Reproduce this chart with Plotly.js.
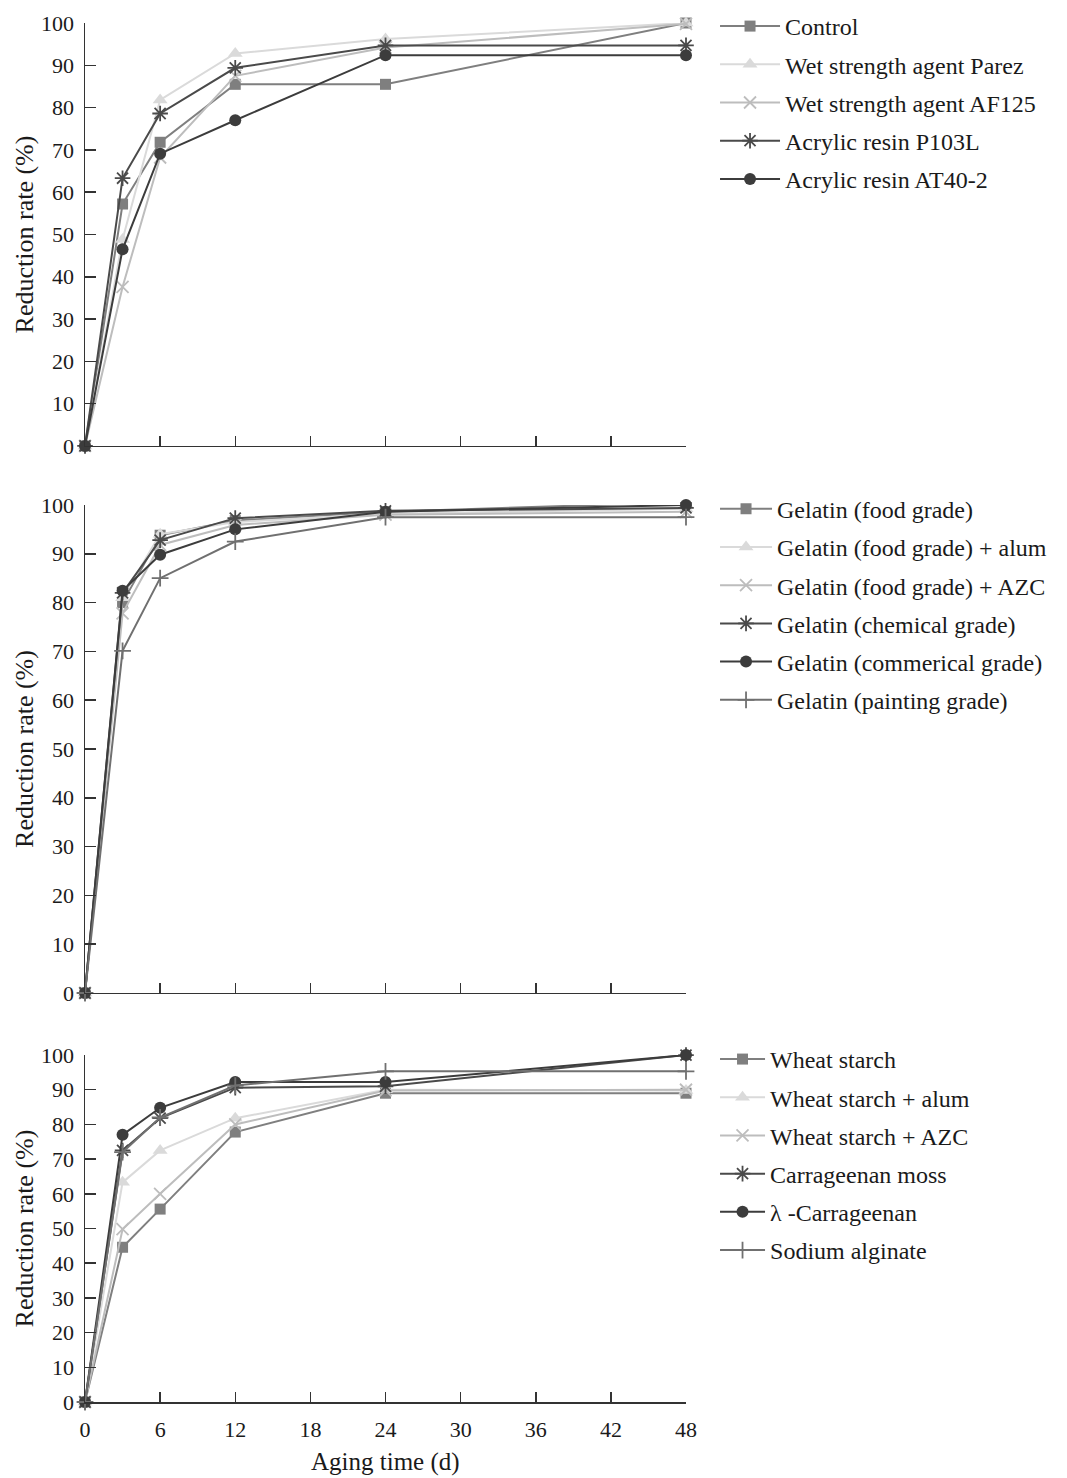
<!DOCTYPE html>
<html>
<head>
<meta charset="utf-8">
<script src="https://cdn.plot.ly/plotly-3.0.1.min.js"></script>
<style>
html,body{margin:0;padding:0;background:#fff;}
#chart{width:1067px;height:1478px;}
</style>
</head>
<body>
<div id="chart"></div>
<script>
// ---- data ----
const days = [0, 3, 6, 12, 24, 48];
const xTicks = [0, 6, 12, 18, 24, 30, 36, 42, 48];
const yTicks = [0, 10, 20, 30, 40, 50, 60, 70, 80, 90, 100];
const xTitle = "Aging time (d)";
const yTitle = "Reduction rate (%)";

// Panel 1
const names1 = ["Control", "Wet strength agent Parez", "Wet strength agent AF125", "Acrylic resin P103L", "Acrylic resin AT40-2"];
const control = [0, 57.2, 71.8, 85.5, 85.5, 100];
const parez = [0, 48.8, 81.8, 92.8, 96.2, 100];
const af125 = [0, 37.6, 68.2, 87.5, 94.2, 99.8];
const p103l = [0, 63.3, 78.6, 89.4, 94.7, 94.7];
const at402 = [0, 46.5, 69.1, 77.0, 92.4, 92.4];

// Panel 2
const names2 = ["Gelatin (food grade)", "Gelatin (food grade) + alum", "Gelatin (food grade) + AZC", "Gelatin (chemical grade)", "Gelatin (commerical grade)", "Gelatin (painting grade)"];
const foodGrade = [0, 80.0, 93.8, 96.8, 98.6, 100.6];
const foodAlum = [0, 81.0, 94.0, 96.5, 98.2, 99.2];
const foodAzc = [0, 77.8, 91.8, 95.9, 98.0, 98.6];
const chemical = [0, 82.0, 92.8, 97.3, 98.8, 99.4];
const commercial = [0, 82.4, 89.8, 95.0, 98.6, 100.0];
const painting = [0, 70.1, 85.0, 92.5, 97.5, 97.5];

// Panel 3
const names3 = ["Wheat starch", "Wheat starch + alum", "Wheat starch + AZC", "Carrageenan moss", "\u03BB -Carrageenan", "Sodium alginate"];
const wheat = [0, 44.6, 55.6, 77.8, 89.0, 89.0];
const wheatAlum = [0, 63.3, 72.5, 81.8, 90.0, 89.8];
const wheatAzc = [0, 49.8, 60.0, 80.0, 89.8, 90.0];
const moss = [0, 72.5, 81.8, 90.6, 91.0, 100];
const lambdaC = [0, 77.0, 84.8, 92.2, 92.2, 100];
const alginate = [0, 72.0, 82.0, 91.2, 95.3, 95.3];

// ---- styles ----
const FONT = "Liberation Serif, Times New Roman, serif";
const TXT = "#1a1a1a";
const styles = {
  square:   {color: "#7f7f7f", symbol: "square", size: 11},
  triangle: {color: "#dadada", symbol: "triangle-up", size: 13},
  xmark:    {color: "#bdbdbd", symbol: "x-thin-open", size: 12, open: true},
  star:     {color: "#4a4a4a", symbol: "asterisk-open", size: 13, open: true},
  circle:   {color: "#3c3c3c", symbol: "circle", size: 12},
  plus:     {color: "#707070", symbol: "cross-thin-open", size: 12, open: true}
};

function tr(y, name, st, xa, ya, leg, grp) {
  const s = styles[st];
  const marker = {symbol: s.symbol, size: s.size, color: s.color};
  if (s.open) marker.line = {color: s.color, width: 1.8};
  return {
    x: days, y: y, name: name, type: "scatter", mode: "lines+markers",
    xaxis: xa, yaxis: ya, legend: leg, legendgroup: grp,
    line: {color: s.color, width: 2},
    marker: marker, cliponaxis: false
  };
}

const data = [
  tr(control, names1[0], "square", "x", "y", "legend", "a1"),
  tr(parez, names1[1], "triangle", "x", "y", "legend", "a2"),
  tr(af125, names1[2], "xmark", "x", "y", "legend", "a3"),
  tr(p103l, names1[3], "star", "x", "y", "legend", "a4"),
  tr(at402, names1[4], "circle", "x", "y", "legend", "a5"),

  tr(foodGrade, names2[0], "square", "x2", "y2", "legend2", "b1"),
  tr(foodAlum, names2[1], "triangle", "x2", "y2", "legend2", "b2"),
  tr(foodAzc, names2[2], "xmark", "x2", "y2", "legend2", "b3"),
  tr(chemical, names2[3], "star", "x2", "y2", "legend2", "b4"),
  tr(commercial, names2[4], "circle", "x2", "y2", "legend2", "b5"),
  tr(painting, names2[5], "plus", "x2", "y2", "legend2", "b6"),

  tr(wheat, names3[0], "square", "x3", "y3", "legend3", "c1"),
  tr(wheatAlum, names3[1], "triangle", "x3", "y3", "legend3", "c2"),
  tr(wheatAzc, names3[2], "xmark", "x3", "y3", "legend3", "c3"),
  tr(moss, names3[3], "star", "x3", "y3", "legend3", "c4"),
  tr(lambdaC, names3[4], "circle", "x3", "y3", "legend3", "c5"),
  tr(alginate, names3[5], "plus", "x3", "y3", "legend3", "c6")
];

function xax(showLabels, anchor) {
  return {
    anchor: anchor, domain: [0, 1], range: [0, 48],
    tickmode: "array", tickvals: xTicks, ticktext: xTicks.map(String),
    showticklabels: showLabels, ticks: "inside", ticklen: 10, tickwidth: 1.5, tickcolor: "#333",
    showline: true, linecolor: "#333", linewidth: 1.5, showgrid: false, zeroline: false,
    tickfont: {family: FONT, size: 22, color: TXT}, ticklabelstandoff: 7, fixedrange: true
  };
}
function yax(domain, anchor) {
  return {
    anchor: anchor, domain: domain, range: [0, 100],
    tickmode: "array", tickvals: yTicks, ticktext: yTicks.map(String),
    ticks: "inside", ticklen: 11, tickwidth: 1.5, tickcolor: "#333",
    showline: true, linecolor: "#333", linewidth: 1.5, showgrid: false, zeroline: false,
    tickfont: {family: FONT, size: 22, color: TXT}, ticklabelstandoff: 5,
    title: {text: yTitle, font: {family: FONT, size: 26, color: TXT}, standoff: 0},
    fixedrange: true
  };
}
function leg(y, w) {
  return {
    x: 1.0483, xanchor: "left", y: y, yanchor: "top", yref: "container",
    font: {family: FONT, size: 24, color: TXT},
    itemwidth: w, tracegroupgap: 4, bgcolor: "rgba(0,0,0,0)", borderwidth: 0,
    traceorder: "grouped"
  };
}

const layout = {
  width: 1067, height: 1478,
  margin: {l: 85, r: 381, t: 23, b: 76, autoexpand: false},
  paper_bgcolor: "#fff", plot_bgcolor: "#fff",
  font: {family: FONT, color: TXT},
  showlegend: true,
  xaxis: xax(false, "y"),
  yaxis: yax([0.6933, 1], "x"),
  xaxis2: xax(false, "y2"),
  yaxis2: yax([0.2966, 0.6505], "x2"),
  xaxis3: xax(true, "y3"),
  yaxis3: yax([0, 0.2516], "x3"),
  legend: leg(0.9973, 60),
  legend2: leg(0.6707, 52),
  legend3: leg(0.2984, 45),
  annotations: [{
    text: xTitle, xref: "paper", yref: "paper", x: 0.5, y: -0.0544,
    xanchor: "center", yanchor: "bottom", showarrow: false, borderpad: 0,
    font: {family: FONT, size: 25, color: TXT}
  }]
};

Plotly.newPlot("chart", data, layout, {displayModeBar: false, staticPlot: true});
</script>
</body>
</html>
